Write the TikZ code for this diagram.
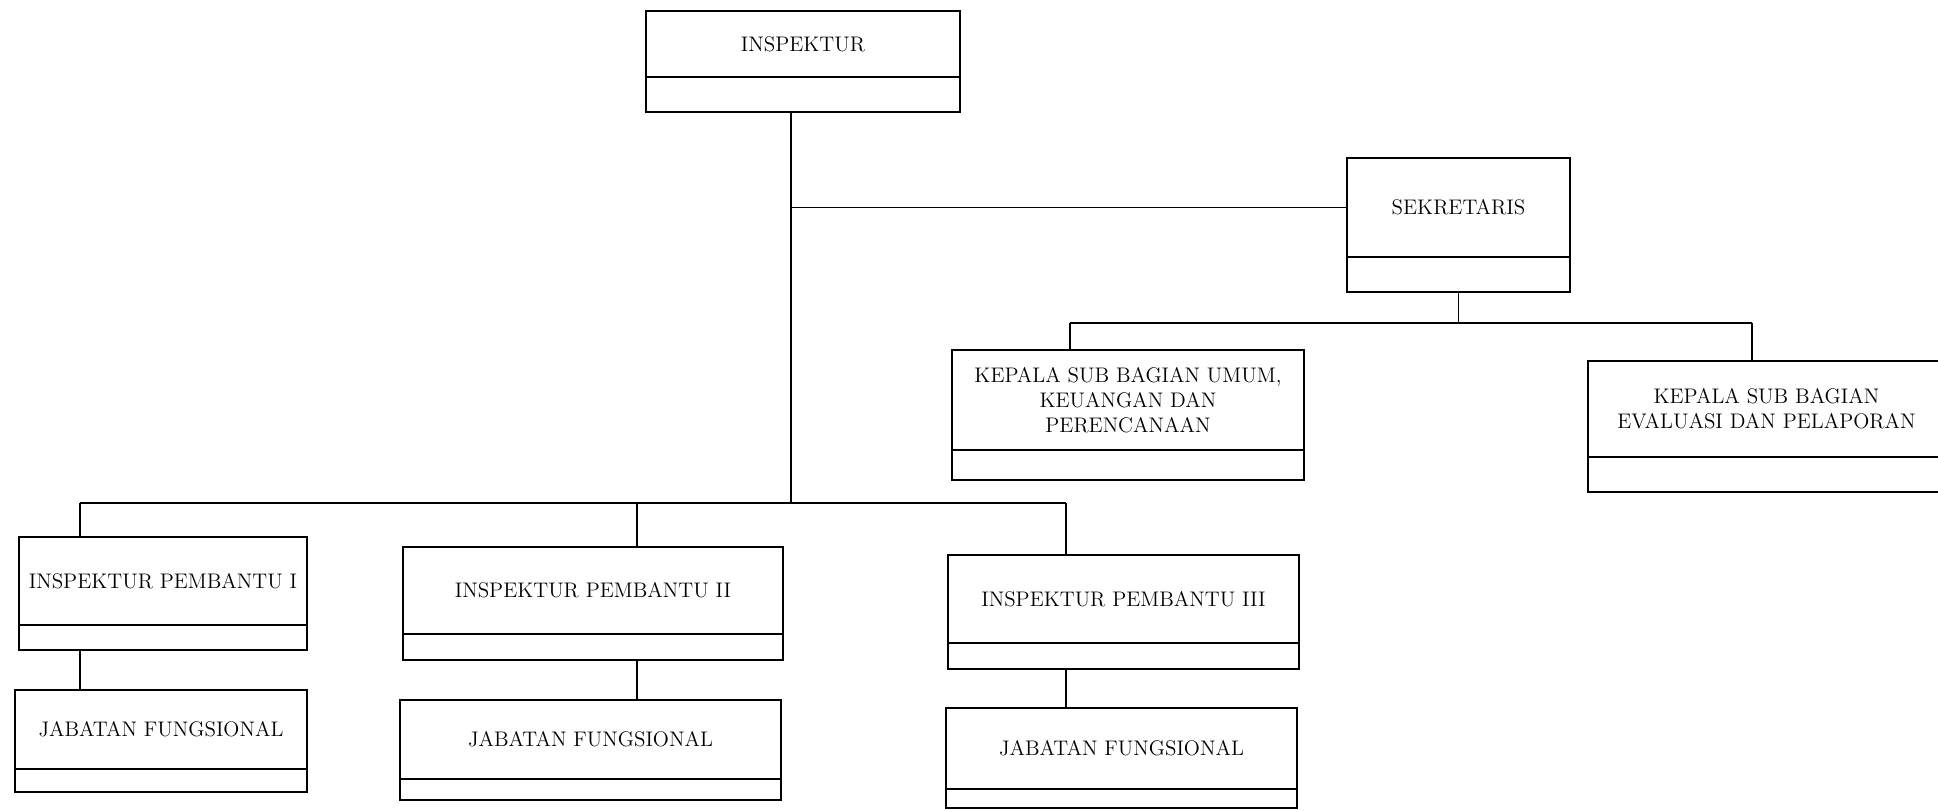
\documentclass[tikz,border=0pt]{standalone}
\usepackage{tikz}
\usetikzlibrary{positioning}

\begin{document}
\begin{tikzpicture}[
    x=0.02cm, y=-0.02cm,
    every node/.style={font=\fontsize{12}{14.2}\selectfont},
    unit/.style={rectangle, draw, line width=1pt, inner sep=0pt, outer sep=0pt, align=center, anchor=north west},
    unitfoot/.style={rectangle, draw, line width=1pt, inner sep=0pt, outer sep=0pt},
    link/.style={line width=1pt}
]
\useasboundingbox (0,0) rectangle (1938,811);

% Top level
\node[unit, minimum width=6.28cm, minimum height=1.32cm] (insp) at (646,11) {INSPEKTUR};
\node[unitfoot, minimum width=6.28cm, minimum height=0.70cm, below=0pt of insp] (insp-b) {};

% Secretariat
\node[unit, minimum width=4.46cm, minimum height=1.98cm] (sekr) at (1347,158) {SEKRETARIS};
\node[unitfoot, minimum width=4.46cm, minimum height=0.70cm, below=0pt of sekr] (sekr-b) {};

\node[unit, minimum width=7.04cm, minimum height=2.00cm] (kasubum) at (952,350) {KEPALA SUB BAGIAN UMUM,\\KEUANGAN DAN\\PERENCANAAN};
\node[unitfoot, minimum width=7.04cm, minimum height=0.60cm, below=0pt of kasubum] (kasubum-b) {};

\node[unit, minimum width=7.14cm, minimum height=1.92cm] (kasubev) at (1588,361) {KEPALA SUB BAGIAN\\EVALUASI DAN PELAPORAN};
\node[unitfoot, minimum width=7.14cm, minimum height=0.70cm, below=0pt of kasubev] (kasubev-b) {};

% Inspektur Pembantu
\node[unit, minimum width=5.76cm, minimum height=1.76cm] (ip1) at (19,537) {INSPEKTUR PEMBANTU I};
\node[unitfoot, minimum width=5.76cm, minimum height=0.50cm, below=0pt of ip1] (ip1-b) {};

\node[unit, minimum width=7.60cm, minimum height=1.74cm] (ip2) at (403,547) {INSPEKTUR PEMBANTU II};
\node[unitfoot, minimum width=7.60cm, minimum height=0.52cm, below=0pt of ip2] (ip2-b) {};

\node[unit, minimum width=7.02cm, minimum height=1.76cm] (ip3) at (948,555) {INSPEKTUR PEMBANTU III};
\node[unitfoot, minimum width=7.02cm, minimum height=0.52cm, below=0pt of ip3] (ip3-b) {};

% Jabatan Fungsional
\node[unit, minimum width=5.84cm, minimum height=1.58cm] (jf1) at (15,690) {JABATAN FUNGSIONAL};
\node[unitfoot, minimum width=5.84cm, minimum height=0.46cm, below=0pt of jf1] (jf1-b) {};

\node[unit, minimum width=7.62cm, minimum height=1.58cm] (jf2) at (400,700) {JABATAN FUNGSIONAL};
\node[unitfoot, minimum width=7.62cm, minimum height=0.42cm, below=0pt of jf2] (jf2-b) {};

\node[unit, minimum width=7.02cm, minimum height=1.62cm] (jf3) at (946,708) {JABATAN FUNGSIONAL};
\node[unitfoot, minimum width=7.02cm, minimum height=0.38cm, below=0pt of jf3] (jf3-b) {};

% Bus points
\coordinate (trunk) at (791,112);
\coordinate (busa) at (1070,323);
\coordinate (busb) at (1752,323);
\coordinate (bus1) at (80,503);
\coordinate (bus2) at (637,503);
\coordinate (bus3) at (1066,503);

% Connectors
\draw[link] (trunk) -- (trunk |- bus1);
\draw[link] (sekr.west) -- (sekr.west -| trunk);
\draw[link] (sekr-b.south) -- (sekr-b.south |- busa);
\draw[link] (busa) -- (busb);
\draw[link] (busa) -- (busa |- kasubum.north);
\draw[link] (busb) -- (busb |- kasubev.north);
\draw[link] (bus1) -- (bus3);
\draw[link] (bus1) -- (bus1 |- ip1.north);
\draw[link] (bus2) -- (bus2 |- ip2.north);
\draw[link] (bus3) -- (bus3 |- ip3.north);
\draw[link] (bus1 |- ip1-b.south) -- (bus1 |- jf1.north);
\draw[link] (bus2 |- ip2-b.south) -- (bus2 |- jf2.north);
\draw[link] (bus3 |- ip3-b.south) -- (bus3 |- jf3.north);

\end{tikzpicture}
\end{document}
